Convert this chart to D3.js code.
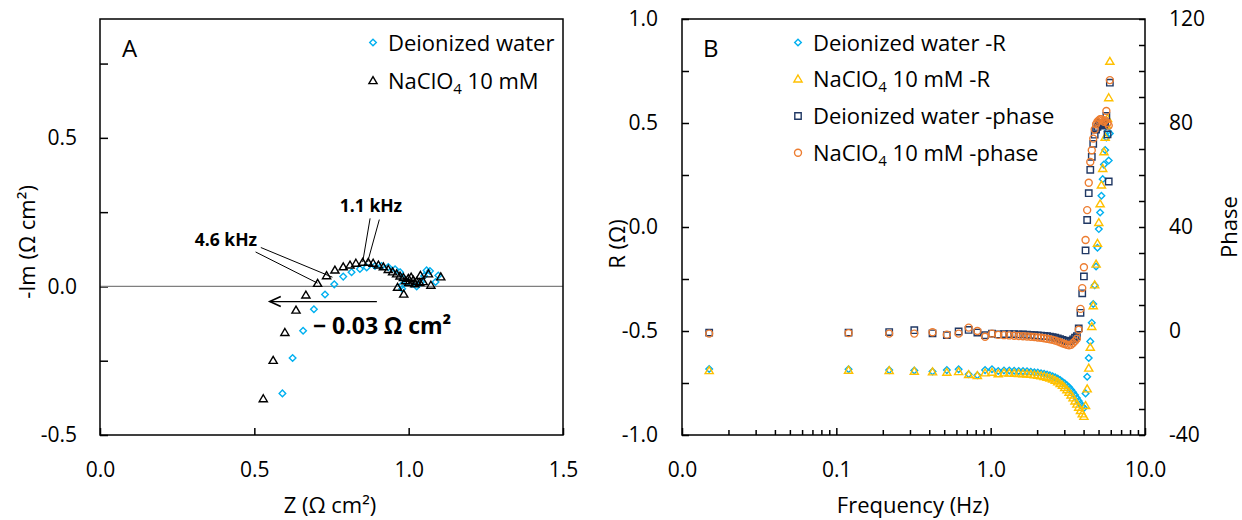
<!DOCTYPE html>
<html>
<head>
<meta charset="utf-8">
<script src="https://cdn.jsdelivr.net/npm/d3@7"></script>
<style>
  body { margin: 0; background: #fff; }
  svg { display: block; font-family: "Open Sans", sans-serif; }
</style>
</head>
<body>
<div id="chart"></div>
<script>
/* DATA */
// panel A - Nyquist plot, Z vs -Im (ohm cm2)
const zWater = [0.591, 0.624, 0.658, 0.693, 0.729, 0.759, 0.788, 0.815, 0.842, 0.864,
  0.891, 0.912, 0.934, 0.956, 0.972, 0.983, 0.994, 1.010, 1.026, 0.977,
  0.979, 1.040, 1.050, 1.058, 1.069, 1.087, 1.096];
const imWater = [-0.360, -0.241, -0.149, -0.077, -0.027, 0.007, 0.033, 0.048, 0.059, 0.064,
  0.069, 0.069, 0.065, 0.058, 0.048, 0.026, 0.015, 0.009, 0.000, 0.003,
  -0.008, 0.015, 0.035, 0.054, 0.052, 0.015, 0.037];

const zNaclo = [0.529, 0.561, 0.599, 0.635, 0.667, 0.705, 0.734, 0.761, 0.788, 0.810,
  0.829, 0.851, 0.869, 0.885, 0.902, 0.918, 0.934, 0.948, 0.961, 0.972,
  0.983, 0.999, 1.015, 1.026, 1.036, 1.047, 0.964, 0.984, 1.038, 1.064,
  1.072, 1.104, 1.000, 1.008, 1.020, 0.990];
const imNaclo = [-0.379, -0.250, -0.156, -0.081, -0.030, 0.009, 0.035, 0.054, 0.065, 0.071,
  0.077, 0.080, 0.080, 0.077, 0.071, 0.065, 0.056, 0.048, 0.041, 0.034,
  0.029, 0.026, 0.020, 0.015, 0.012, 0.015, -0.004, -0.027, 0.036, 0.041,
  0.003, 0.031, 0.012, 0.030, 0.008, 0.018];

// panel B - R and phase vs frequency (Hz)
const freq = [0.015, 0.12, 0.22, 0.32, 0.42, 0.52, 0.62, 0.72, 0.82, 0.92,
  1.02, 1.12, 1.22, 1.32, 1.42, 1.52, 1.62, 1.72, 1.82, 1.92,
  2.02, 2.12, 2.22, 2.32, 2.42, 2.52, 2.62, 2.72, 2.82, 2.92,
  3.02, 3.12, 3.22, 3.32, 3.42, 3.52, 3.62, 3.72, 3.82, 3.92,
  4.02, 4.12, 4.22, 4.32, 4.42, 4.52, 4.62, 4.72, 4.82, 4.92,
  5.02, 5.12, 5.22, 5.32, 5.42, 5.52, 5.62, 5.72, 5.82, 5.92];
const rWater = [-0.683, -0.684, -0.688, -0.690, -0.695, -0.688, -0.684, -0.708, -0.713, -0.688,
  -0.684, -0.692, -0.690, -0.690, -0.691, -0.692, -0.693, -0.694, -0.696, -0.698,
  -0.700, -0.703, -0.706, -0.709, -0.713, -0.718, -0.723, -0.729, -0.736, -0.744,
  -0.752, -0.761, -0.771, -0.782, -0.795, -0.808, -0.822, -0.836, -0.850, -0.862,
  -0.870, -0.800, -0.720, -0.630, -0.550, -0.460, -0.370, -0.280, -0.190, -0.100,
  -0.010, 0.070, 0.150, 0.230, 0.300, 0.370, 0.430, 0.460, 0.320, 0.450];
const rNaclo = [-0.692, -0.690, -0.692, -0.695, -0.698, -0.700, -0.697, -0.711, -0.716, -0.703,
  -0.700, -0.707, -0.703, -0.704, -0.705, -0.706, -0.707, -0.708, -0.710, -0.712,
  -0.714, -0.717, -0.720, -0.724, -0.728, -0.733, -0.739, -0.746, -0.754, -0.763,
  -0.773, -0.784, -0.796, -0.809, -0.823, -0.838, -0.853, -0.868, -0.884, -0.900,
  -0.912, -0.860, -0.780, -0.680, -0.580, -0.480, -0.380, -0.280, -0.180, -0.080,
  0.020, 0.110, 0.200, 0.280, 0.360, 0.430, 0.490, 0.520, 0.620, 0.795];
const phaseWater = [-0.6, -0.6, -0.4, 0.3, -0.9, -1.6, -0.2, 0.4, -0.6, -1.6,
  -1.0, -1.3, -1.2, -1.2, -1.2, -1.3, -1.3, -1.4, -1.5, -1.6,
  -1.7, -1.8, -1.9, -2.0, -2.2, -2.4, -2.6, -2.8, -3.1, -3.4,
  -3.7, -3.9, -4.0, -3.8, -3.2, -2.6, -2.0, 1.0, 7.0, 14.5,
  21, 31, 42.7, 53, 62, 67, 72, 75.5, 77.5, 78.5,
  79.5, 80, 80, 79.5, 79, 80, 82.7, 75.6, 57.5, 95.5];
const phaseNaclo = [-1.0, -0.8, -1.0, -1.0, -0.5, -1.4, -1.0, 1.3, 0.0, -2.2,
  -1.0, -1.5, -1.6, -1.7, -1.8, -1.9, -2.0, -2.1, -2.2, -2.3,
  -2.5, -2.6, -2.8, -3.0, -3.2, -3.4, -3.7, -4.0, -4.3, -4.7,
  -5.0, -5.3, -5.5, -5.3, -4.6, -3.9, -3.0, 0.5, 8.5, 16.5,
  24.5, 35, 46.5, 57, 65, 69.5, 74, 77.5, 79.5, 80.5,
  81, 81.5, 81.5, 81, 80.5, 81, 84.6, 80, 79, 96.5];

// tick values
const aXTicks = [0, 0.5, 1.0, 1.5];
const aYTicks = [-0.5, -0.25, 0, 0.25, 0.5, 0.75];
const bXMajor = [0.01, 0.1, 1, 10];
const bYTicks = [-1, -0.75, -0.5, -0.25, 0, 0.25, 0.5, 0.75, 1];
const bPhaseTicks = [-40, -30, -20, -10, 0, 10, 20, 30, 40, 50, 60, 70, 80, 90, 100, 110, 120];

/* CONSTANTS */
const width = 1242, height = 520;
const boxA = { left: 100, right: 563, top: 19, bottom: 435 };
const boxB = { left: 682, right: 1145, top: 19, bottom: 435 };
const tickFont = 21, labelFont = 22;
const blue = "#00B0F0", gold = "#FFC000", navy = "#203864", orange = "#ED7D31";

const svg = d3.select("#chart").append("svg")
  .attr("width", width)
  .attr("height", height);

// marker shapes
const diamond = r => `M0,${-r}L${r},0L0,${r}L${-r},0Z`;
const triangle = r => `M0,${-r}L${r * 0.95},${r * 0.62}L${-r * 0.95},${r * 0.62}Z`;
const square = r => `M${-r},${-r}H${r}V${r}H${-r}Z`;
const circle = r => d3.arc()({ innerRadius: 0, outerRadius: r, startAngle: 0, endAngle: 2 * Math.PI });

function styleAxis(g, size) {
  g.attr("font-family", null).attr("font-size", null);
  g.select(".domain").remove();
  g.selectAll(".tick line").attr("stroke", "#000").attr("stroke-width", 1.5);
  g.selectAll(".tick text").attr("fill", "#000").attr("font-size", size);
}

function drawPoints(x, y, xs, ys, shape, r, color) {
  svg.append("g").selectAll("path")
    .data(xs.map((v, i) => [v, ys[i]]))
    .join("path")
    .attr("transform", d => `translate(${x(d[0])},${y(d[1])})`)
    .attr("d", shape(r))
    .attr("fill", "none")
    .attr("stroke", color)
    .attr("stroke-width", 1.4);
}

// legend entry; "NaClO" + subscript 4 + rest
function legendRow(x, y, shape, r, color, label, rest) {
  svg.append("path")
    .attr("transform", `translate(${x},${y})`)
    .attr("d", shape(r))
    .attr("fill", "none")
    .attr("stroke", color)
    .attr("stroke-width", 1.4);
  const t = svg.append("text")
    .attr("x", x + 15).attr("y", y + 8)
    .attr("font-size", labelFont);
  t.append("tspan").text(label);
  if (rest !== undefined) {
    t.append("tspan").attr("dy", 5).attr("font-size", 15).text("4");
    t.append("tspan").attr("dy", -5).text(rest);
  }
}

/* PANEL A */
const xA = d3.scaleLinear().domain([0, 1.5]).range([boxA.left, boxA.right]);
const yA = d3.scaleLinear().domain([-0.5, 0.9]).range([boxA.bottom, boxA.top]);

svg.append("g")
  .attr("transform", `translate(0,${boxA.bottom})`)
  .call(d3.axisBottom(xA).tickValues(aXTicks).tickSize(-7).tickPadding(27).tickFormat(d => d.toFixed(1)))
  .call(g => styleAxis(g, tickFont));

svg.append("g")
  .attr("transform", `translate(${boxA.left},0)`)
  .call(d3.axisLeft(yA).tickValues(aYTicks).tickSize(-8).tickPadding(23)
    .tickFormat(d => Math.abs(d * 2 - Math.round(d * 2)) < 1e-9 ? d.toFixed(1) : ""))
  .call(g => styleAxis(g, tickFont));

// zero line
svg.append("line")
  .attr("x1", xA(0)).attr("x2", xA(1.5))
  .attr("y1", yA(0)).attr("y2", yA(0))
  .attr("stroke", "#7f7f7f").attr("stroke-width", 1.2);

svg.append("rect")
  .attr("x", boxA.left).attr("y", boxA.top)
  .attr("width", boxA.right - boxA.left).attr("height", boxA.bottom - boxA.top)
  .attr("fill", "none").attr("stroke", "#000").attr("stroke-width", 1.5);

drawPoints(xA, yA, zWater, imWater, diamond, 3.3, blue);
drawPoints(xA, yA, zNaclo, imNaclo, triangle, 4.3, "#000");

// annotations
const leaders = [
  [[0.504, 0.116], [0.705, 0.011]],
  [[0.521, 0.131], [0.753, 0.031]],
  [[0.875, 0.229], [0.851, 0.082]],
  [[0.905, 0.225], [0.867, 0.082]]
];
svg.append("g").selectAll("line")
  .data(leaders)
  .join("line")
  .attr("x1", d => xA(d[0][0])).attr("y1", d => yA(d[0][1]))
  .attr("x2", d => xA(d[1][0])).attr("y2", d => yA(d[1][1]))
  .attr("stroke", "#000").attr("stroke-width", 1);

svg.append("text")
  .attr("x", xA(0.509)).attr("y", yA(0.135))
  .attr("text-anchor", "end")
  .attr("font-size", 17.5).attr("font-weight", "bold")
  .text("4.6 kHz");
svg.append("text")
  .attr("x", xA(0.777)).attr("y", yA(0.25))
  .attr("font-size", 17.5).attr("font-weight", "bold")
  .text("1.1 kHz");

// shift arrow
const arrowY = yA(-0.051);
svg.append("line")
  .attr("x1", xA(0.897)).attr("x2", xA(0.55))
  .attr("y1", arrowY).attr("y2", arrowY)
  .attr("stroke", "#000").attr("stroke-width", 1.2);
svg.append("path")
  .attr("d", `M${xA(0.55) + 11},${arrowY - 5}L${xA(0.55)},${arrowY}L${xA(0.55) + 11},${arrowY + 5}`)
  .attr("fill", "none").attr("stroke", "#000").attr("stroke-width", 1.6);
svg.append("text")
  .attr("x", xA(0.69)).attr("y", yA(-0.159))
  .attr("font-size", 23).attr("font-weight", "bold")
  .text("\u2212 0.03 \u03A9 cm\u00B2");

svg.append("text")
  .attr("x", 122).attr("y", 57)
  .attr("font-size", 24)
  .text("A");

legendRow(373, 42.5, diamond, 3.3, blue, "Deionized water");
legendRow(373, 81, triangle, 4.3, "#000", "NaClO", " 10 mM");

// axis titles
svg.append("text")
  .attr("transform", `translate(35,242) rotate(-90)`)
  .attr("text-anchor", "middle")
  .attr("font-size", labelFont)
  .text("-Im (\u03A9 cm\u00B2)");
svg.append("text")
  .attr("x", 330).attr("y", 513)
  .attr("text-anchor", "middle")
  .attr("font-size", labelFont)
  .text("Z (\u03A9 cm\u00B2)");

/* PANEL B */
const xB = d3.scaleLog().domain([0.01, 10]).range([boxB.left, boxB.right]);
const yR = d3.scaleLinear().domain([-1, 1]).range([boxB.bottom, boxB.top]);
const yP = d3.scaleLinear().domain([-40, 120]).range([boxB.bottom, boxB.top]);

const bXMinor = [];
bXMajor.slice(0, 3).forEach(d => { for (let k = 2; k <= 9; k++) bXMinor.push(d * k); });

svg.append("g")
  .attr("transform", `translate(0,${boxB.bottom})`)
  .call(d3.axisBottom(xB).tickValues(bXMinor).tickSize(-5).tickFormat(""))
  .call(g => styleAxis(g, tickFont));
svg.append("g")
  .attr("transform", `translate(0,${boxB.bottom})`)
  .call(d3.axisBottom(xB).tickValues(bXMajor).tickSize(-7).tickPadding(27).tickFormat(d => d.toFixed(1)))
  .call(g => styleAxis(g, tickFont));

svg.append("g")
  .attr("transform", `translate(${boxB.left},0)`)
  .call(d3.axisLeft(yR).tickValues(bYTicks).tickSize(-7).tickPadding(24)
    .tickFormat(d => Math.abs(d * 2 - Math.round(d * 2)) < 1e-9 ? d.toFixed(1) : ""))
  .call(g => styleAxis(g, tickFont));

svg.append("g")
  .attr("transform", `translate(${boxB.right},0)`)
  .call(d3.axisRight(yP).tickValues(bPhaseTicks).tickSize(-6).tickPadding(24)
    .tickFormat(d => d % 40 === 0 ? d : ""))
  .call(g => styleAxis(g, tickFont));

svg.append("rect")
  .attr("x", boxB.left).attr("y", boxB.top)
  .attr("width", boxB.right - boxB.left).attr("height", boxB.bottom - boxB.top)
  .attr("fill", "none").attr("stroke", "#000").attr("stroke-width", 1.5);

drawPoints(xB, yR, freq, rWater, diamond, 3.3, blue);
drawPoints(xB, yR, freq, rNaclo, triangle, 4.3, gold);
drawPoints(xB, yP, freq, phaseWater, square, 3.2, navy);
drawPoints(xB, yP, freq, phaseNaclo, circle, 3.5, orange);

svg.append("text")
  .attr("x", 703).attr("y", 57)
  .attr("font-size", 24)
  .text("B");

legendRow(798, 42.5, diamond, 3.3, blue, "Deionized water -R");
legendRow(798, 79.3, triangle, 4.3, gold, "NaClO", " 10 mM -R");
legendRow(798, 116, square, 3.2, navy, "Deionized water -phase");
legendRow(798, 152.7, circle, 3.5, orange, "NaClO", " 10 mM -phase");

svg.append("text")
  .attr("transform", `translate(625,244) rotate(-90)`)
  .attr("text-anchor", "middle")
  .attr("font-size", labelFont)
  .text("R (\u03A9)");
svg.append("text")
  .attr("transform", `translate(1237,227) rotate(-90)`)
  .attr("text-anchor", "middle")
  .attr("font-size", labelFont)
  .text("Phase");
svg.append("text")
  .attr("x", 913).attr("y", 513)
  .attr("text-anchor", "middle")
  .attr("font-size", labelFont)
  .text("Frequency (Hz)");
</script>
</body>
</html>
